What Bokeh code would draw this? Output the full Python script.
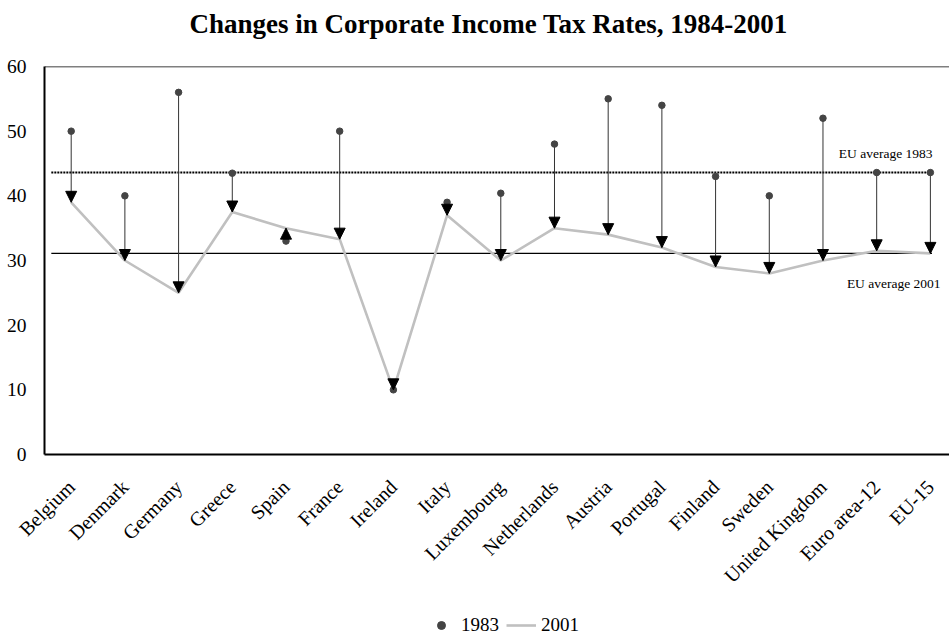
import math
from bokeh.plotting import figure
from bokeh.layouts import column
from bokeh.models import (ColumnDataSource, FixedTicker, Span, Label, Legend,
                          LegendItem, Arrow, NormalHead, Range1d)
from bokeh.embed import file_html
from bokeh.resources import INLINE

# ---------------- data ----------------
countries = ["Belgium", "Denmark", "Germany", "Greece", "Spain", "France",
             "Ireland", "Italy", "Luxembourg", "Netherlands", "Austria",
             "Portugal", "Finland", "Sweden", "United Kingdom",
             "Euro area-12", "EU-15"]
rate_1983 = [50.0, 40.0, 56.0, 43.5, 33.0, 50.0, 10.0, 39.0, 40.4, 48.0,
             55.0, 54.0, 43.0, 40.0, 52.0, 43.6, 43.6]
rate_2001 = [39.0, 30.0, 25.0, 37.5, 35.0, 33.3, 10.0, 37.0, 30.0, 35.0,
             34.0, 32.0, 29.0, 28.0, 30.0, 31.5, 31.1]
eu_avg_1983 = 43.6
eu_avg_2001 = 31.1
y_ticks = [0, 10, 20, 30, 40, 50, 60]
title_text = "Changes in Corporate Income Tax Rates, 1984-2001"
series_labels = ["1983", "2001"]

FONT = "Liberation Serif"
DOT_COLOR = "#444444"
LINE_COLOR = "#c0c0c0"

xs = list(range(len(countries)))
# arrowhead direction: down when the rate fell (or stayed), up when it rose
head_start = [b + 1.5 if b <= a else b - 1.5 for a, b in zip(rate_1983, rate_2001)]

src = ColumnDataSource(dict(x=xs, r83=rate_1983, r01=rate_2001, hs=head_start))

W = 949

# ---------------- title strip ----------------
tfig = figure(width=W, height=44, output_backend="svg", toolbar_location=None,
              x_range=Range1d(0, 1), y_range=Range1d(0, 1),
              x_axis_type=None, y_axis_type=None, min_border=0)
tfig.outline_line_color = None
tfig.grid.visible = False
tfig.add_layout(Label(x=444, y=21, x_units="screen", y_units="screen",
                      text=title_text, text_align="center",
                      text_baseline="alphabetic", text_font=FONT,
                      text_font_size="27px", text_font_style="bold",
                      text_color="black"))

# ---------------- main chart ----------------
p = figure(width=W, height=556, output_backend="svg", toolbar_location=None,
           x_range=Range1d(-0.497, 16.356), y_range=Range1d(0, 60),
           min_border_left=44, min_border_right=0, min_border_top=22,
           min_border_bottom=146)
p.outline_line_color = None
p.xgrid.visible = False
p.ygrid.visible = False
p.background_fill_color = "white"
p.border_fill_color = "white"

# top border of the frame
p.add_layout(Span(location=60, dimension="width", line_color="black", line_width=1.5))

# EU average reference lines
p.segment(x0=[-0.37], y0=[eu_avg_1983], x1=[16.03], y1=[eu_avg_1983],
          line_color="black", line_width=2, line_dash="2 1")
p.segment(x0=[-0.37], y0=[eu_avg_2001], x1=[16.03], y1=[eu_avg_2001],
          line_color="black", line_width=1.2)

# 2001 line
p.line("x", "r01", source=src, line_color=LINE_COLOR, line_width=2.6)

# arrow shafts
p.segment(x0="x", y0="r83", x1="x", y1="r01", source=src,
          line_color="#333333", line_width=1)

# arrow heads
p.add_layout(Arrow(end=NormalHead(size=11, fill_color="black", line_color="black", line_width=1),
                   x_start="x", y_start="hs", x_end="x", y_end="r01", source=src,
                   line_color="#333333", line_width=1))

# 1983 dots
p.scatter("x", "r83", source=src, size=6.5, fill_color=DOT_COLOR,
          line_color=DOT_COLOR)

# reference labels
p.add_layout(Label(x=16.04, y=46.6, text="EU average 1983", text_align="right",
                   text_baseline="middle", text_font=FONT, text_font_size="13.5px",
                   text_color="black"))
p.add_layout(Label(x=16.19, y=26.5, text="EU average 2001", text_align="right",
                   text_baseline="middle", text_font=FONT, text_font_size="13.5px",
                   text_color="black"))

# axes
p.yaxis.ticker = FixedTicker(ticks=y_ticks)
p.yaxis.major_tick_line_color = None
p.yaxis.minor_tick_line_color = None
p.yaxis.axis_line_width = 2
p.yaxis.major_label_standoff = 12
p.yaxis.major_label_text_font = FONT
p.yaxis.major_label_text_font_size = "19.5px"
p.yaxis.major_label_text_color = "black"

p.xaxis.ticker = FixedTicker(ticks=xs)
p.xaxis.major_label_overrides = {i: c for i, c in zip(xs, countries)}
p.xaxis.major_label_orientation = math.pi / 4
p.xaxis.major_tick_line_color = None
p.xaxis.minor_tick_line_color = None
p.xaxis.axis_line_width = 2
p.xaxis.major_label_standoff = 23
p.xaxis.major_label_text_font = FONT
p.xaxis.major_label_text_font_size = "20px"
p.xaxis.major_label_text_color = "black"

# ---------------- legend strip ----------------
# the series are drawn again here only as legend sources; the y range keeps
# their marks out of view so that just the legend is visible
lfig = figure(width=W, height=38, output_backend="svg", toolbar_location=None,
              x_range=Range1d(0, 1), y_range=Range1d(100, 101),
              x_axis_type=None, y_axis_type=None, min_border=0)
lfig.outline_line_color = None
lfig.grid.visible = False
leg_dot = lfig.scatter(xs, rate_1983, size=6, fill_color=DOT_COLOR,
                       line_color=DOT_COLOR)
leg_line = lfig.line(xs, rate_2001, line_color=LINE_COLOR, line_width=2.6)
legend = Legend(items=[LegendItem(label=series_labels[0], renderers=[leg_dot]),
                       LegendItem(label=series_labels[1], renderers=[leg_line])],
                orientation="horizontal", location=(382, 2),
                border_line_color=None, background_fill_alpha=0,
                label_text_font=FONT, label_text_font_size="19px",
                label_text_color="black",
                glyph_width=30, label_standoff=5, spacing=7, padding=0,
                margin=0)
lfig.add_layout(legend)

layout = column(tfig, p, lfig, spacing=0)
open("out.html", "w").write(file_html(layout, INLINE))
